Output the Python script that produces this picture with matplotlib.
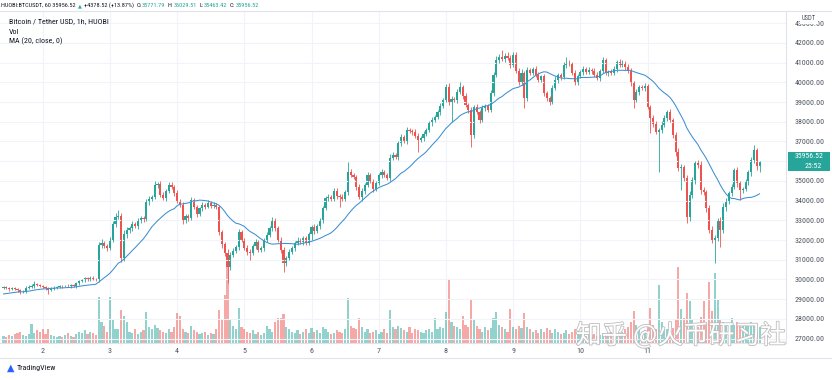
import matplotlib
matplotlib.use('Agg')
import matplotlib.pyplot as plt
from matplotlib.patches import Rectangle
from matplotlib.lines import Line2D
import matplotlib.patheffects as pe
import numpy as np
import pandas as pd

W, H = 832, 380

# HUOBI BTCUSDT 1h closes, first bar = day 1 10:00
closes = [
    29600, 29550, 29500, 29560, 29520, 29450, 29350, 29380, 29580, 29620,
    29650, 29750, 29700, 29680, 29620, 29550, 29480, 29520, 29580, 29620,
    29650, 29640, 29680, 29660, 29700, 29650, 29800, 29900, 29950, 30050,
    30000, 30080, 30020, 29980, 31750, 31850, 31700, 31600, 32000, 32800,
    33170, 33200, 31100, 32300, 32500, 32600, 32800, 32700, 33000, 33100,
    33050, 33930, 34100, 34200, 34800, 34850, 34300, 34130, 34500, 34800,
    34700, 34400, 34000, 33800, 33000, 33200, 33100, 34030, 33700, 33300,
    33600, 33800, 33700, 33900, 33750, 33800, 33650, 32400, 31800, 31340,
    30630, 31240, 31450, 31650, 32400, 32000, 31600, 31400, 31340, 31700,
    31900, 31500, 31600, 32000, 32250, 32600, 33000, 32600, 32000, 31500,
    30830, 31100, 31400, 31600, 31850, 32000, 31900, 32100, 31850, 32300,
    32660, 32450, 32700, 33000, 33600, 34130, 34200, 34100, 34500, 34250,
    34200, 34100, 34450, 35450, 35300, 35200, 34700, 34180, 34500, 34800,
    35300, 35000, 34600, 34900, 35300, 35450, 35300, 35150, 36160, 36300,
    36200, 36900, 37230, 37000, 37580, 37550, 37500, 37300, 37080, 37200,
    37400, 37580, 37940, 38100, 38240, 38500, 38800, 39100, 39770, 39000,
    39150, 39100, 39500, 39770, 39300, 38850, 38600, 37330, 38750, 38500,
    38090, 38700, 38800, 38600, 39460, 40400, 41140, 41300, 41200, 41350,
    41250, 40880, 41400, 40600, 40000, 40480, 39200, 40630, 40500, 40700,
    40400, 40120, 40300, 39460, 39200, 39000, 39720, 40100, 40380, 40250,
    40880, 41000, 40950, 40500, 40000, 40300, 40530, 40700, 40550, 40650,
    40600, 40400, 40220, 40600, 41140, 40480, 40550, 40500, 40700, 41040,
    40900, 41000, 40800, 40600, 39970, 39100, 39500, 39770, 39700, 39800,
    38750, 38190, 37900, 37500, 37600, 37840, 38200, 38500, 38100, 37330,
    36470, 35650, 35700, 35150, 33170, 34300, 35050, 35900, 35800, 34540,
    34440, 33620, 32500, 32000, 32100, 33000, 32500, 33680, 34000, 34380,
    34700, 35550, 34900, 34540, 34600, 34950, 35450, 36060, 36570, 35771.79,
    35956.52,
]
first_open = 29550
# closes before the window, only used by the MA(20)
pre_closes = [29150, 29200, 29100, 29050, 29150, 29250, 29200, 29300, 29250, 29200,
              29150, 29250, 29300, 29350, 29250, 29300, 29400, 29350, 29450]

upper_wick = [
    60, 50, 80, 60, 70, 50, 60, 90, 60, 80,
    100, 150, 60, 80, 50, 70, 60, 80, 60, 70,
    60, 80, 50, 70, 60, 80, 60, 90, 70, 80,
    60, 70, 80, 60, 150, 200, 120, 100, 150, 180,
    200, 320, 150, 200, 150, 120, 150, 100, 130, 120,
    100, 150, 120, 100, 180, 100, 120, 150, 100, 120,
    150, 100, 120, 100, 150, 120, 100, 150, 120, 100,
    100, 120, 100, 150, 100, 120, 100, 150, 120, 100,
    200, 150, 120, 100, 150, 120, 100, 150, 120, 100,
    150, 120, 100, 120, 150, 100, 150, 120, 100, 150,
    120, 100, 150, 100, 120, 150, 100, 120, 100, 120,
    100, 150, 100, 120, 150, 100, 120, 100, 150, 120,
    100, 120, 100, 510, 150, 120, 100, 150, 120, 100,
    150, 120, 100, 120, 100, 150, 120, 100, 200, 150,
    120, 150, 150, 120, 150, 120, 100, 150, 120, 100,
    150, 120, 100, 150, 120, 100, 150, 120, 150, 200,
    150, 120, 150, 250, 120, 150, 100, 150, 120, 150,
    100, 150, 120, 100, 150, 120, 200, 150, 350, 150,
    200, 150, 140, 120, 150, 200, 120, 150, 120, 100,
    150, 120, 100, 150, 120, 100, 150, 200, 120, 100,
    150, 270, 120, 100, 150, 120, 100, 150, 100, 120,
    100, 150, 120, 100, 150, 120, 100, 150, 120, 100,
    150, 120, 100, 150, 120, 100, 150, 120, 100, 150,
    120, 100, 150, 120, 100, 200, 150, 120, 150, 100,
    150, 200, 150, 120, 150, 200, 150, 120, 150, 200,
    150, 120, 150, 200, 150, 120, 150, 200, 150, 120,
    150, 120, 150, 120, 100, 150, 120, 150, 250, 120,
    72.99,
]
lower_wick = [
    50, 60, 70, 50, 60, 80, 100, 60, 50, 70,
    60, 80, 50, 70, 60, 80, 230, 60, 70, 50,
    60, 70, 50, 60, 80, 50, 70, 60, 50, 80,
    60, 70, 60, 80, 100, 150, 120, 150, 100, 120,
    150, 120, 220, 150, 200, 120, 150, 100, 120, 150,
    120, 100, 150, 120, 100, 150, 120, 100, 150, 120,
    100, 150, 120, 100, 200, 120, 150, 100, 150, 120,
    100, 150, 120, 100, 150, 120, 100, 150, 200, 150,
    830, 150, 120, 100, 150, 120, 100, 150, 360, 100,
    150, 120, 100, 150, 120, 100, 150, 120, 100, 150,
    450, 150, 120, 100, 150, 120, 100, 150, 120, 100,
    300, 120, 100, 150, 120, 100, 150, 120, 100, 150,
    500, 120, 100, 150, 120, 100, 150, 120, 200, 150,
    120, 100, 150, 120, 100, 150, 120, 100, 150, 120,
    100, 150, 120, 100, 150, 120, 150, 100, 600, 120,
    150, 120, 100, 150, 120, 100, 150, 120, 100, 150,
    1000, 120, 150, 100, 150, 120, 150, 610, 150, 120,
    150, 100, 150, 120, 100, 150, 120, 150, 100, 150,
    120, 150, 100, 120, 150, 120, 500, 150, 120, 100,
    150, 120, 100, 150, 120, 150, 120, 100, 150, 120,
    100, 150, 120, 100, 150, 120, 100, 150, 120, 100,
    150, 120, 100, 150, 120, 100, 150, 120, 100, 150,
    120, 100, 150, 120, 150, 400, 120, 150, 100, 150,
    120, 760, 150, 120, 2050, 150, 120, 150, 120, 150,
    200, 150, 1110, 150, 310, 200, 150, 200, 150, 200,
    150, 200, 150, 150, 1170, 150, 850, 150, 200, 150,
    150, 120, 200, 500, 150, 120, 150, 200, 150, 200,
    308.37,
]
# volume, hundreds of BTC
volume = [
    6, 5, 7, 6, 8, 9, 10, 7, 6, 8,
    17, 9, 11, 10, 12, 8, 12, 7, 6, 5,
    6, 5, 7, 9, 6, 5, 8, 10, 9, 11,
    8, 10, 9, 7, 40, 18, 15, 10, 40, 20,
    12, 12, 29, 24, 18, 10, 9, 12, 8, 10,
    11, 27, 14, 12, 16, 13, 11, 10, 9, 12,
    10, 14, 26, 24, 12, 10, 9, 15, 11, 10,
    8, 9, 10, 7, 9, 8, 12, 29, 20, 42,
    70, 20, 15, 12, 31, 14, 12, 10, 9, 11,
    8, 10, 7, 9, 15, 12, 10, 18, 22, 22,
    25, 14, 12, 10, 9, 11, 8, 10, 12, 9,
    13, 10, 11, 9, 14, 12, 10, 8, 9, 11,
    10, 9, 12, 39, 15, 13, 12, 22, 14, 10,
    12, 9, 10, 11, 8, 10, 12, 9, 29, 14,
    12, 15, 13, 11, 10, 14, 9, 12, 11, 10,
    9, 11, 12, 10, 22, 12, 14, 13, 27, 55,
    18, 15, 14, 12, 24, 16, 14, 38, 20, 15,
    12, 10, 14, 11, 13, 22, 27, 16, 14, 12,
    10, 30, 14, 12, 15, 13, 26, 14, 12, 10,
    11, 9, 12, 10, 13, 11, 9, 12, 10, 8,
    9, 11, 8, 10, 12, 9, 7, 8, 6, 9,
    7, 8, 6, 7, 9, 8, 6, 10, 7, 9,
    8, 10, 12, 14, 18, 28, 16, 12, 10, 11,
    14, 31, 16, 12, 51, 18, 14, 12, 15, 13,
    20, 66, 30, 22, 44, 37, 20, 16, 14, 23,
    37, 18, 53, 28, 61, 38, 20, 18, 15, 17,
    22, 16, 18, 15, 17, 16, 15, 18, 17, 16,
    14,
]

day_labels = ['2', '3', '4', '5', '6', '7', '8', '9', '10', '11']
day_start = 14          # bar index of day 2 00:00
price_ticks = list(range(27000, 43001, 1000))

UP, DOWN = '#26a69a', '#ef5350'
GRID = '#f0f3fa'
TXT = '#131722'
AXT = '#4c525e'
narrow = ['Roboto Condensed', 'DejaVu Sans']

fig = plt.figure(figsize=(W / 100, H / 100), dpi=100)

def fx(x):
    return x / W

def fy(y):
    return 1 - y / H

top, bot, right = 11, 343, 786
rect = [0, fy(bot), fx(right), (bot - top) / H]
axv = fig.add_axes(rect)
ax = fig.add_axes(rect, sharex=axv)
ax.patch.set_visible(False)

c = np.array(closes, dtype=float)
o = np.r_[first_open, c[:-1]]
idx = np.arange(len(c))
up = c >= o
hi = np.maximum(o, c) + np.array(upper_wick)
lo = np.minimum(o, c) - np.array(lower_wick)
col = np.where(up, UP, DOWN)

ma = pd.Series(pre_closes + closes).rolling(20).mean().to_numpy()[len(pre_closes):]

# volume pane
axv.bar(idx, volume, width=0.72, color=col, alpha=0.5, linewidth=0)
axv.set_ylim(0, 290)
axv.set_yticks([])
axv.set_xlim(-1.25, 279.46)
axv.set_xticks([day_start + 24 * k for k in range(len(day_labels))])
axv.set_xticklabels(day_labels, family=narrow, fontsize=5.8, color=AXT)
axv.tick_params(axis='x', length=0, pad=3.5)
axv.grid(axis='x', color=GRID, lw=0.8)
axv.set_axisbelow(True)
for s in ['top', 'left']:
    axv.spines[s].set_visible(False)
for s in ['right', 'bottom']:
    axv.spines[s].set_color('#e0e3eb')
    axv.spines[s].set_linewidth(0.8)

# candles
ax.vlines(idx, lo, hi, colors=col, lw=0.6)
ax.bar(idx, np.maximum(np.abs(c - o), 20), bottom=np.minimum(o, c), width=0.72,
       color=col, linewidth=0)
ax.plot(idx, ma, color='#3d8fd1', lw=0.75)

ax.set_ylim(26772, 43624)
ax.set_yticks(price_ticks)
ax.set_yticklabels([f'{p:.2f}' for p in price_ticks], family=narrow, fontsize=5.7,
                   color=AXT)
ax.yaxis.tick_right()
ax.tick_params(axis='y', length=0, pad=6.5)
ax.tick_params(axis='x', bottom=False, labelbottom=False)
ax.grid(axis='y', color=GRID, lw=0.8)
for s in ax.spines.values():
    s.set_visible(False)

# header: pieces laid out one after another
fig.add_artist(Line2D([0, 1], [fy(11), fy(11)], color='#e0e3eb', lw=0.8))
renderer = fig.canvas.get_renderer()
hs = 4.5
header = [('HUOBI:BTCUSDT, 60 35956.52', TXT, narrow, hs, 2.5),
          ('\u25b2', UP, ['DejaVu Sans'], 3.6, 2),
          ('+4378.52 (+13.87%)', TXT, narrow, hs, 2.5),
          ('O:', TXT, narrow, hs, 0.3), ('35771.79', UP, narrow, hs, 2.5),
          ('H:', TXT, narrow, hs, 0.3), ('36029.51', UP, narrow, hs, 2.5),
          ('L:', TXT, narrow, hs, 0.3), ('35463.42', UP, narrow, hs, 2.5),
          ('C:', TXT, narrow, hs, 0.3), ('35956.52', UP, narrow, hs, 0)]
x = 1.0
for s, color, fam, size, gap in header:
    t = fig.text(fx(x), fy(5.5), s, fontsize=size, color=color, family=fam, va='center')
    x += t.get_window_extent(renderer).width + gap

for y, s in [(21.5, 'Bitcoin / Tether USD, 1h, HUOBI'), (31.5, 'Vol'), (41.5, 'MA (20, close, 0)')]:
    fig.text(fx(9), fy(y), s, fontsize=5.8, color=TXT, family=narrow, va='center')

# USDT badge over the top price label
fig.text(fx(809), fy(18.5), 'USDT', fontsize=4.8, color=AXT, family=narrow,
         ha='center', va='center',
         bbox=dict(boxstyle='square,pad=0.35', fc='white', ec='none'))

# last price label
fig.add_artist(Rectangle((fx(788), fy(171)), fx(42), 19 / H, transform=fig.transFigure,
                         color=UP, lw=0))
fig.text(fx(809), fy(156.5), '35956.52', fontsize=5.6, color='white', family=narrow,
         ha='center', va='center')
fig.text(fx(813), fy(166.5), '25:52', fontsize=5.6, color='white', family=narrow,
         ha='center', va='center')

# footer
fig.add_artist(Line2D([0, 1], [fy(358), fy(358)], color='#e0e3eb', lw=0.8))
fig.text(fx(7), fy(368), '\u25b2', fontsize=7, color='#2962ff', va='center')
fig.text(fx(17), fy(368), 'TradingView', fontsize=5.8, color=TXT, family=narrow, va='center')

# watermark
fig.text(fx(681), fy(336), '知乎 @火币研习社', fontsize=18.5, color='white',
         family=['Noto Sans CJK SC', 'DejaVu Sans'], ha='center', va='center',
         path_effects=[pe.withStroke(linewidth=1.2, foreground='#bdbdbd')])

fig.savefig('out.png', dpi=100, facecolor='white')
